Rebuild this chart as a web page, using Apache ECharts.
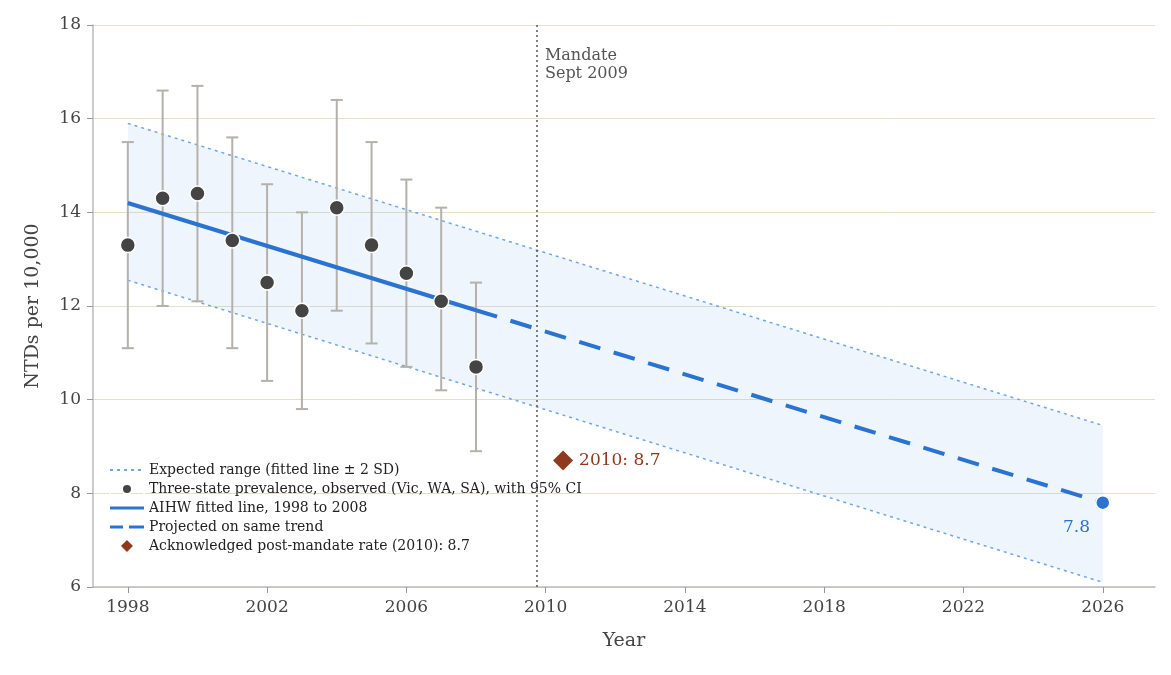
<!DOCTYPE html>
<html>
<head>
<meta charset="utf-8">
<title>NTDs per 10,000</title>
<script src="https://cdn.jsdelivr.net/npm/echarts@6.0.0/dist/echarts.min.js"></script>
<style>html,body{margin:0;background:#fff}#chart{width:1171px;height:675px}</style>
</head>
<body>
<div id="chart"></div>
<script>
const years = [1998, 1999, 2000, 2001, 2002, 2003, 2004, 2005, 2006, 2007, 2008];
const observed = [13.3, 14.3, 14.4, 13.4, 12.5, 11.9, 14.1, 13.3, 12.7, 12.1, 10.7];
const ciLow = [11.1, 12.0, 12.1, 11.1, 10.4, 9.8, 11.9, 11.2, 10.7, 10.2, 8.9];
const ciHigh = [15.5, 16.6, 16.7, 15.6, 14.6, 14.0, 16.4, 15.5, 14.7, 14.1, 12.5];
const fitted = [[1998, 14.2], [2008, 11.91]];
const projected = [[2008, 11.91], [2026, 7.8]];
const bandYears = [1998, 2026];
const bandUpper = [15.9, 9.45];
const bandLower = [12.55, 6.1];
const postMandate = [[2010.5, 8.7]];
const mandateYear = 2009.75;
const xTicks = [1998, 2002, 2006, 2010, 2014, 2018, 2022, 2026];

const font = 'DejaVu Serif';
const blue = '#2a73cf';
const brown = '#8f3a1d';
const chart = echarts.init(document.getElementById('chart'));

const bandPolygon = bandYears.map((y, i) => [y, bandUpper[i]])
    .concat(bandYears.map((y, i) => [y, bandLower[i]]).reverse());

chart.setOption({
    animation: false,
    textStyle: {fontFamily: font},
    grid: {left: 93, top: 25, right: 16, bottom: 88},
    xAxis: {
        type: 'value', min: 1997, max: 2027.5,
        name: 'Year', nameLocation: 'middle', nameGap: 45,
        nameTextStyle: {fontSize: 19, color: '#444', fontFamily: font},
        axisLine: {lineStyle: {color: '#bbb', width: 1.5}},
        axisTick: {customValues: xTicks, length: 6, lineStyle: {color: '#999'}},
        axisLabel: {customValues: xTicks, fontSize: 17, color: '#444', margin: 12, formatter: v => String(v)},
        splitLine: {show: false}
    },
    yAxis: {
        type: 'value', min: 6, max: 18, interval: 2,
        name: 'NTDs per 10,000', nameLocation: 'middle', nameGap: 50,
        nameTextStyle: {fontSize: 19, color: '#444', fontFamily: font},
        axisLine: {show: true, lineStyle: {color: '#bbb', width: 1.5}},
        axisTick: {show: true, length: 6, lineStyle: {color: '#999'}},
        axisLabel: {fontSize: 17, color: '#444', margin: 12},
        splitLine: {lineStyle: {color: '#e3e0c8'}}
    },
    legend: {
        orient: 'vertical', left: 104, top: 458, itemGap: 5,
        itemWidth: 34, itemHeight: 12,
        textStyle: {fontFamily: font, fontSize: 14, color: '#222'},
        data: [
            {name: 'Expected range (fitted line ± 2 SD)', icon: 'path://M0,5h3v2h-3zM7,5h3v2h-3zM14,5h3v2h-3zM21,5h3v2h-3zM28,5h3v2h-3zM34,0h0.01v12h-0.01z'},
            {name: 'Three-state prevalence, observed (Vic, WA, SA), with 95% CI', icon: 'path://M12,6a5,5 0 1,0 10,0a5,5 0 1,0 -10,0zM34,0h0.01v12h-0.01zM0,0h0.01v12h-0.01z'},
            {name: 'AIHW fitted line, 1998 to 2008', icon: 'path://M0,4.5h34v3h-34zM0,0h0.01v12h-0.01z'},
            {name: 'Projected on same trend', icon: 'path://M0,4.5h13v3h-13zM19,4.5h15v3h-15zM0,0h0.01v12h-0.01z'},
            {name: 'Acknowledged post-mandate rate (2010): 8.7', icon: 'path://M17,0l6,6l-6,6l-6,-6zM34,0h0.01v12h-0.01zM0,0h0.01v12h-0.01z'}
        ]
    },
    series: [
        {
            type: 'custom', silent: true, z: 1,
            data: [0],
            renderItem: (params, api) => ({
                type: 'polygon',
                shape: {points: bandPolygon.map(p => api.coord(p))},
                style: {fill: 'rgba(120,170,230,0.12)'}
            })
        },
        {
            name: 'Expected range (fitted line ± 2 SD)', type: 'line', symbol: 'none', z: 2,
            color: '#6fa6e6',
            lineStyle: {type: [3, 4], width: 1.5, color: '#6fa6e6'},
            data: bandYears.map((y, i) => [y, bandUpper[i]])
        },
        {
            name: 'Expected range (fitted line ± 2 SD)', type: 'line', symbol: 'none', z: 2,
            lineStyle: {type: [3, 4], width: 1.5, color: '#6fa6e6'},
            data: bandYears.map((y, i) => [y, bandLower[i]])
        },
        {
            type: 'custom', silent: true, z: 3,
            data: years.map((y, i) => [y, ciLow[i], ciHigh[i]]),
            renderItem: (params, api) => {
                const lo = api.coord([api.value(0), api.value(1)]);
                const hi = api.coord([api.value(0), api.value(2)]);
                const st = {stroke: '#b5b1aa', lineWidth: 2};
                return {type: 'group', children: [
                    {type: 'line', shape: {x1: lo[0], y1: lo[1], x2: hi[0], y2: hi[1]}, style: st},
                    {type: 'line', shape: {x1: lo[0] - 6, y1: lo[1], x2: lo[0] + 6, y2: lo[1]}, style: st},
                    {type: 'line', shape: {x1: hi[0] - 6, y1: hi[1], x2: hi[0] + 6, y2: hi[1]}, style: st}
                ]};
            }
        },
        {
            name: 'AIHW fitted line, 1998 to 2008', type: 'line', symbol: 'none', z: 4,
            color: blue, lineStyle: {width: 4, color: blue},
            data: fitted
        },
        {
            name: 'Projected on same trend', type: 'line', symbol: 'none', z: 4,
            color: blue, lineStyle: {width: 4, color: blue, type: [22, 14]},
            data: projected,
            markLine: {
                symbol: 'none', silent: true,
                lineStyle: {type: [2, 3], color: '#555', width: 1.5},
                label: {show: false},
                data: [{xAxis: mandateYear}]
            }
        },
        {
            type: 'scatter', z: 5, symbolSize: 14,
            itemStyle: {color: blue, borderColor: '#fff', borderWidth: 1.5, opacity: 1},
            label: {show: true, position: [-32, 24], formatter: p => p.value[1].toFixed(1),
                color: blue, fontSize: 17, fontFamily: font},
            data: [projected[projected.length - 1]]
        },
        {
            name: 'Three-state prevalence, observed (Vic, WA, SA), with 95% CI', type: 'scatter', z: 6,
            symbolSize: 15, color: '#444',
            itemStyle: {color: '#444', borderColor: '#fff', borderWidth: 1.5, opacity: 1},
            data: years.map((y, i) => [y, observed[i]])
        },
        {
            name: 'Acknowledged post-mandate rate (2010): 8.7', type: 'scatter', z: 6,
            symbol: 'diamond', symbolSize: 20, color: brown,
            itemStyle: {color: brown, opacity: 1},
            label: {show: true, position: 'right', distance: 6, formatter: p => '2010: ' + p.value[1],
                color: brown, fontSize: 17, fontFamily: font},
            data: postMandate
        }
    ]
});

const mandatePos = chart.convertToPixel({gridIndex: 0}, [mandateYear, 18]);
chart.setOption({
    graphic: [{
        type: 'text', left: mandatePos[0] + 8, top: mandatePos[1] + 22,
        style: {text: 'Mandate\nSept 2009', fill: '#555', font: '16px "DejaVu Serif"', lineHeight: 18}
    }]
});
</script>
</body>
</html>
